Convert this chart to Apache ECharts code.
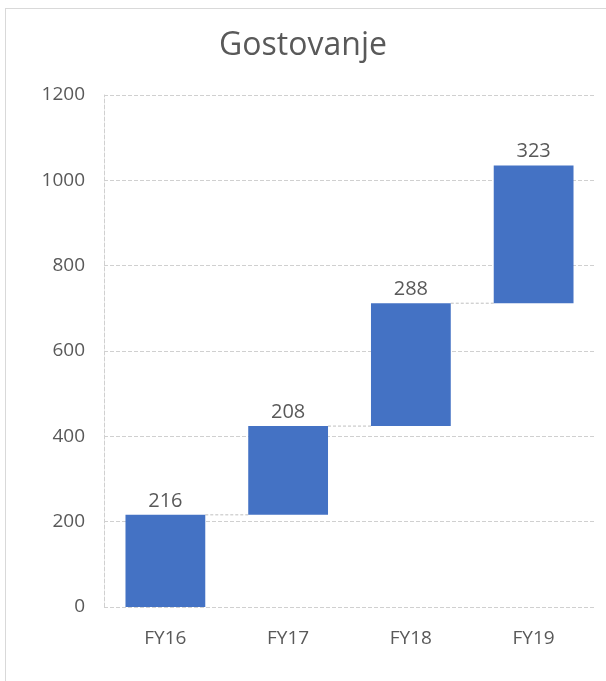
<!DOCTYPE html>
<html>
<head>
<meta charset="utf-8">
<script src="https://cdn.jsdelivr.net/npm/echarts@6/dist/echarts.min.js"></script>
<style>
  html, body { margin: 0; padding: 0; background: #fff; }
  #frame {
    position: absolute; left: 5px; top: 8px; width: 601px; height: 673px;
    border-left: 1px solid #d9d9d9; border-top: 1px solid #d9d9d9;
  }
  #chart { position: absolute; left: 0; top: 0; width: 606px; height: 681px; }
</style>
</head>
<body>
<div id="frame"></div>
<div id="chart"></div>
<script>
var categories = ["FY16", "FY17", "FY18", "FY19"];
var deltas = [216, 208, 288, 323];
var yTicks = { min: 0, max: 1200, interval: 200 };

// running totals -> invisible base + visible step
var bases = [];
var ends = [];
var run = 0;
deltas.forEach(function (d) {
    bases.push(run);
    run += d;
    ends.push(run);
});

var textColor = "#595959";
var fontFam = "'Open Sans', 'Noto Sans', sans-serif";
var barPct = 0.65;

var myChart = echarts.init(document.getElementById("chart"));
myChart.setOption({
    animation: false,
    title: {
        text: "Gostovanje",
        left: "center",
        top: 25,
        textStyle: { color: textColor, fontSize: 32, fontWeight: "normal", fontFamily: fontFam }
    },
    grid: { left: 104, right: 11, top: 95, bottom: 74 },
    xAxis: {
        type: "category",
        data: categories,
        axisLine: { show: false },
        axisTick: { show: false },
        axisLabel: { color: textColor, fontSize: 19, fontFamily: fontFam, margin: 22 }
    },
    yAxis: {
        type: "value",
        min: yTicks.min,
        max: yTicks.max,
        interval: yTicks.interval,
        axisLine: { show: true, lineStyle: { color: "#d0d0d0", type: "dashed", width: 1 } },
        axisTick: { show: false },
        axisLabel: {
            color: textColor, fontSize: 19, fontFamily: fontFam, margin: 19,
            formatter: function (v) { return String(v); }
        },
        splitLine: { show: true, lineStyle: { color: "#d0d0d0", type: "dashed", width: 1 } }
    },
    series: [
        {
            type: "bar",
            stack: "wf",
            data: bases,
            barWidth: (barPct * 100) + "%",
            itemStyle: { color: "transparent" },
            silent: true
        },
        {
            type: "bar",
            stack: "wf",
            data: deltas,
            barWidth: (barPct * 100) + "%",
            itemStyle: { color: "#4472C4" },
            label: {
                show: true,
                position: "top",
                distance: 4,
                color: textColor,
                fontSize: 20,
                fontFamily: fontFam
            }
        },
        {
            type: "custom",
            silent: true,
            z: 1,
            data: ends.slice(0, -1).map(function (v, i) { return [i, v]; }),
            renderItem: function (params, api) {
                var p = api.coord([api.value(0), api.value(1)]);
                var band = api.size([1, 0])[0];
                var half = band * barPct / 2;
                return {
                    type: "line",
                    shape: { x1: p[0] + half, y1: p[1], x2: p[0] + band - half, y2: p[1] },
                    style: { stroke: "#bfbfbf", lineWidth: 1, lineDash: [3, 2] }
                };
            }
        }
    ]
});
</script>
</body>
</html>
